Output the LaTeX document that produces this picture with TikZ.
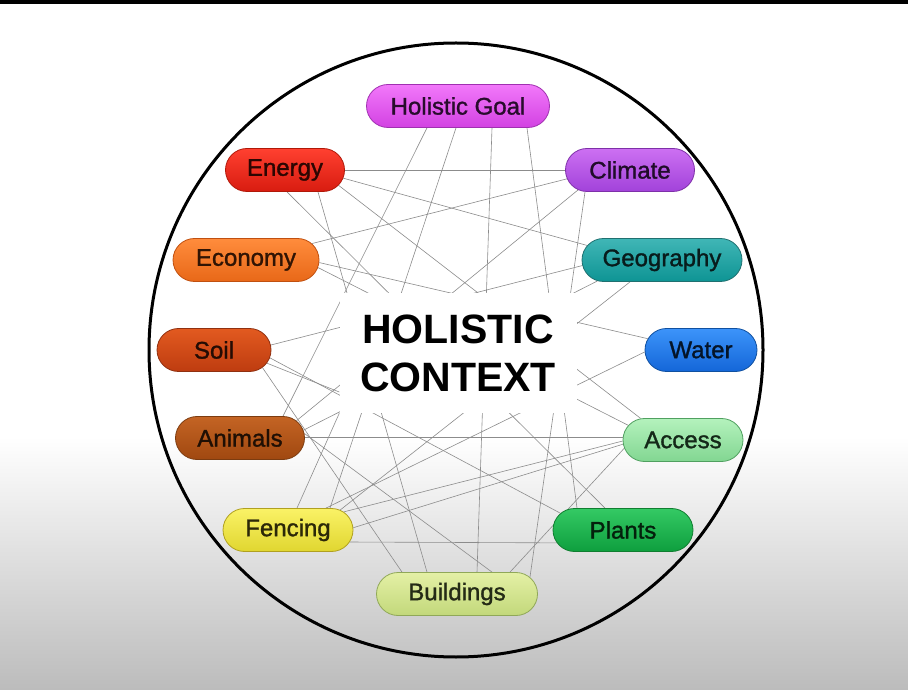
\documentclass[tikz,border=0pt]{standalone}
\usepackage{fontspec}
\setmainfont{Liberation Sans}
\newfontfamily\lblfont{Liberation Sans}[FakeBold=1.3]
\usetikzlibrary{shapes.misc}
\pgfdeclarelayer{back}
\pgfdeclarelayer{edges}
\pgfsetlayers{back,edges,main}
\definecolor{bgB}{HTML}{BCBCBC}
\definecolor{hgT}{HTML}{F278FA}\definecolor{hgB}{HTML}{D242E2}\definecolor{hgD}{HTML}{A030B0}
\definecolor{enT}{HTML}{FF4030}\definecolor{enB}{HTML}{D81C10}\definecolor{enD}{HTML}{B01808}
\definecolor{clT}{HTML}{CC70F2}\definecolor{clB}{HTML}{A242DA}\definecolor{clD}{HTML}{7E30A8}
\definecolor{ecT}{HTML}{FF8C3C}\definecolor{ecB}{HTML}{E86818}\definecolor{ecD}{HTML}{C05010}
\definecolor{geT}{HTML}{40B6B6}\definecolor{geB}{HTML}{0E9494}\definecolor{geD}{HTML}{207070}
\definecolor{soT}{HTML}{E25A20}\definecolor{soB}{HTML}{BE3C10}\definecolor{soD}{HTML}{903010}
\definecolor{waT}{HTML}{3C94FA}\definecolor{waB}{HTML}{1466D8}\definecolor{waD}{HTML}{1050A0}
\definecolor{anT}{HTML}{C46424}\definecolor{anB}{HTML}{A04810}\definecolor{anD}{HTML}{7C3C10}
\definecolor{acT}{HTML}{B4F2BC}\definecolor{acB}{HTML}{82D692}\definecolor{acD}{HTML}{50A060}
\definecolor{feT}{HTML}{FAF266}\definecolor{feB}{HTML}{E0D630}\definecolor{feD}{HTML}{B0A020}
\definecolor{plT}{HTML}{34CA64}\definecolor{plB}{HTML}{0E9E3E}\definecolor{plD}{HTML}{107E30}
\definecolor{buT}{HTML}{E4F0A6}\definecolor{buB}{HTML}{C2D87A}\definecolor{buD}{HTML}{90A858}
\tikzset{
  pill/.style={rounded rectangle, minimum height=43pt, inner xsep=0pt,
    font=\lblfont\fontsize{24}{28}\selectfont, line width=0.8pt},
  web/.style={draw=black!45, line width=0.6pt},
  titlebox/.style={fill=white, minimum width=237pt, minimum height=120pt,
    align=center, font=\fontsize{41}{48}\selectfont\bfseries},
  ring/.style={line width=3pt, draw=black}
}
\begin{document}
\begin{tikzpicture}[x=1pt,y=1pt]
\useasboundingbox (0,0) rectangle (908,689);
\begin{pgfonlayer}{back}
\fill[white] (0,0) rectangle (908,689);
\shade[top color=white, bottom color=bgB] (0,0) rectangle (908,252);
\fill[black] (0,685) rectangle (908,689);
\draw[ring] (456,339) circle (307pt);
\end{pgfonlayer}
\node[titlebox] (T) at (458,336) {HOLISTIC\\CONTEXT};
\node[pill, minimum width=183pt, top color=hgT, bottom color=hgB, draw=hgD, text=hgD!25!black] (HG) at (458,583) {Holistic Goal};
\node[pill, minimum width=119pt, top color=enT, bottom color=enB, draw=enD, text=enD!25!black] (En) at (285,519) {Energy};
\node[pill, minimum width=129pt, top color=clT, bottom color=clB, draw=clD, text=clD!25!black] (Cl) at (630,519) {Climate};
\node[pill, minimum width=146pt, top color=ecT, bottom color=ecB, draw=ecD, text=ecD!25!black] (Ec) at (246,429) {Economy};
\node[pill, minimum width=160pt, top color=geT, bottom color=geB, draw=geD, text=geD!25!black] (Ge) at (662,429) {Geography};
\node[pill, minimum width=114pt, top color=soT, bottom color=soB, draw=soD, text=soD!25!black] (So) at (214,339) {Soil};
\node[pill, minimum width=112pt, top color=waT, bottom color=waB, draw=waD, text=waD!25!black] (Wa) at (701,339) {Water};
\node[pill, minimum width=129pt, top color=anT, bottom color=anB, draw=anD, text=anD!25!black] (An) at (240,251) {Animals};
\node[pill, minimum width=120pt, top color=acT, bottom color=acB, draw=acD, text=acD!25!black] (Ac) at (683,249) {Access};
\node[pill, minimum width=130pt, top color=feT, bottom color=feB, draw=feD, text=feD!25!black] (Fe) at (288,159) {Fencing};
\node[pill, minimum width=140pt, top color=plT, bottom color=plB, draw=plD, text=plD!25!black] (Pl) at (623,159) {Plants};
\node[pill, minimum width=161pt, top color=buT, bottom color=buB, draw=buD, text=buD!25!black] (Bu) at (457,95) {Buildings};
\begin{pgfonlayer}{edges}
\draw[web] (En.east) -- (Cl.west);
\draw[web] (En.-8) -- (Ge.169);
\draw[web] ([xshift=33]En.south) -- ([xshift=-30]Bu.north);
\draw[web] ([xshift=2]En.south) -- ([xshift=-18]Pl.north);
\draw[web] (En.-16) -- (Ac.153);
\draw[web] (Cl.188) -- (Ec.14);
\draw[web] (Cl.201) -- (An.17);
\draw[web] ([xshift=-45]Cl.south) -- (Bu.13);
\draw[web] ([yshift=1]An.east) -- ([yshift=3]Ac.west);
\draw[web] (Fe.-11) -- (Pl.191);
\draw[web] (So.5) -- (Ge.184);
\draw[web] (So.-8) -- (Pl.165);
\draw[web] (So.-20) -- ([xshift=-55]Bu.north);
\draw[web] (An.7) -- (Ge.198);
\draw[web] ([xshift=-32]Ge.south) -- (Fe.21);
\draw[web] (Wa.168) -- (Ec.-2);
\draw[web] (Wa.182) -- (Fe.30);
\draw[web] (Ec.-6) -- (Ac.165);
\draw[web] ([xshift=53]Bu.north) -- (Ac.188);
\draw[web] (Fe.2) -- (Ac.184);
\draw[web] (Fe.18) -- (Ac.181);
\draw[web] ([xshift=-31]HG.south) -- ([xshift=43]An.north);
\draw[web] ([xshift=-2]HG.south) -- ([xshift=42]Fe.north);
\draw[web] ([xshift=34]HG.south) -- ([xshift=20]Bu.north);
\draw[web] ([xshift=69]HG.south) -- ([xshift=-46]Pl.north);
\draw[web] (An.4) -- ([xshift=35]Bu.north);
\draw[web] (So.-14) -- ([yshift=-39]T.west);
\draw[web] ([xshift=9]Fe.north) -- (T.south west);
\end{pgfonlayer}
\end{tikzpicture}
\end{document}
